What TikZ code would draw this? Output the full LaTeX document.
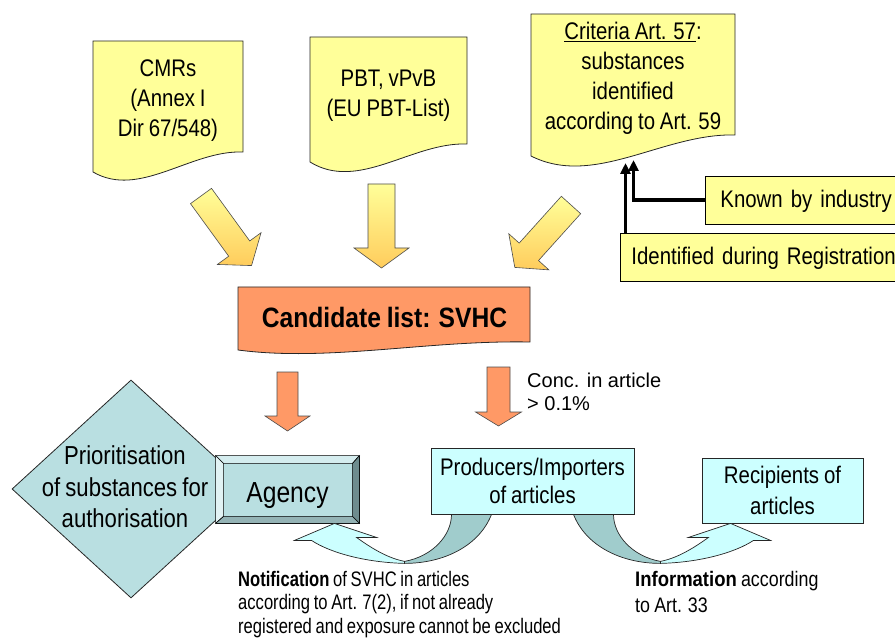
\documentclass[tikz,border=0pt]{standalone}
\usepackage{fontspec}
\setmainfont{Liberation Sans}[FakeStretch=0.85, WordSpace=0.85, BoldFeatures={FakeStretch=0.88}]
\newfontfamily\concfont{Liberation Sans}
\newfontfamily\notefont{Liberation Sans}[FakeStretch=0.79, WordSpace=0.8]
\usetikzlibrary{arrows.meta, shapes.geometric, calc}

\definecolor{docyellow}{HTML}{FFFF99}
\definecolor{arrowtop}{HTML}{FFFF99}
\definecolor{arrowbottom}{HTML}{FFCC5C}
\definecolor{svhcorange}{HTML}{FF9966}
\definecolor{tealface}{HTML}{B9DFE1}
\definecolor{bevtop}{HTML}{D5EDEF}
\definecolor{bevleft}{HTML}{E2F3F4}
\definecolor{bevright}{HTML}{6E8C8E}
\definecolor{bevbottom}{HTML}{94B3B5}
\definecolor{cyanlight}{HTML}{CCFFFF}
\definecolor{cyandark}{HTML}{A0CCCC}

\newcommand{\docpath}[6]{(#1, #2) -- (#3, #2) -- (#3, #5) .. controls ({#1 + 0.65*(#3 - #1)}, {#5 - 2}) and ({#1 + 0.31*(#3 - #1)}, {#4 + #6}) .. (#1, #4) -- cycle}

\tikzset{
    doc/.style = {fill=docyellow, draw=black!85, line width=0.8pt},
    doctext/.style = {align=center, font=\fontsize{24}{30}\selectfont},
    tag/.style = {fill=docyellow, draw=black, line width=0.8pt, align=left, minimum height=48pt, text height=17.5pt, text depth=1.5pt, font=\fontsize{24}{29}\selectfont},
    feed/.style = {line width=3.5pt, -{Triangle[length=11pt, width=10pt]}},
    cand/.style = {fill=svhcorange, draw=black!85, line width=0.8pt},
    candtext/.style = {font=\bfseries\fontsize{28}{34}\selectfont},
    yarrow/.style = {top color=arrowtop, bottom color=arrowbottom, draw=black!70, line width=0.6pt},
    oarrow/.style = {fill=svhcorange, draw=black!70, line width=0.6pt},
    prio/.style = {fill=tealface, draw=black!85, line width=0.8pt},
    priotext/.style = {align=center, font=\fontsize{26}{31.5}\selectfont},
    face/.style = {fill=tealface, draw=black, line width=0.8pt, font=\fontsize{29}{35}\selectfont},
    bevel/.style = {draw=black, line width=0.6pt},
    actor/.style = {fill=cyanlight, draw=black!85, line width=0.8pt, align=center},
    flowback/.style = {fill=cyandark, draw=black!85, line width=0.7pt},
    flowfront/.style = {fill=cyanlight, draw=black!85, line width=0.7pt},
    conc/.style = {align=left, font=\concfont\fontsize{20}{23}\selectfont},
    note/.style = {align=left, font=\notefont\fontsize{21}{23.5}\selectfont},
    info/.style = {align=left, font=\fontsize{21}{26}\selectfont},
    pics/blockarrow/.style args = {#1/#2/#3/#4}{code = {
        \path [pic actions] (-#1, 0) -- (#1, 0) -- (#1, #2) -- (#3, #2) -- (0, #4) -- (-#3, #2) -- (-#1, #2) -- cycle;
    }},
    pics/infoflow/.style = {code = {
        \path [flowback] (41, 0) .. controls (53, 31) and (88, 49) .. (128, 49) -- (128, 47) .. controls (100, 42) and (81, 21) .. (81, 0) -- cycle;
        \path [flowfront] (128, 49) .. controls (168, 48) and (203, 38) .. (221, 26) -- (238, 26) -- (198, 9) -- (156, 23) -- (176, 23) .. controls (158, 36) and (143, 44) .. (128, 47) -- cycle;
    }}
}

\begin{document}
\begin{tikzpicture}[x=1pt, y=-1pt]
        \useasboundingbox (0, 0) rectangle (895, 639);
        \path [doc] \docpath{93}{41}{243}{172}{152}{27};
        \path [doc] \docpath{310}{37}{467}{162}{144}{30};
        \path [doc] \docpath{531}{14}{735}{156}{135}{32};
        \node [doctext] (cmr) at (168, 101) {CMRs\\(Annex I\\Dir 67/548)};
        \node [doctext] (pbt) at (388.5, 96) {PBT, vPvB\\(EU PBT-List)};
        \node [doctext] (crit) at (633, 78) {\underline{Criteria Art. 57}:\\substances\\identified\\according to Art. 59};
        \node [tag, anchor=base west, inner xsep=15pt, text width=200pt] (known) at (705, 208) {Known by industry};
        \node [tag, anchor=base west, inner xsep=11pt, text width=275pt] (ident) at (620, 265) {Identified during Registration};
        \coordinate (kn) at (633.5, 160);
        \coordinate (id) at (625.5, 163);
        \draw [feed] (known.west) -| (kn);
        \draw [feed] (ident.north -| id) -- (id);
        \pic [yarrow, rotate=36] at (201, 196) {blockarrow={13/65/27/86}};
        \pic [yarrow] at (381.5, 184) {blockarrow={13.5/64/27.5/84}};
        \pic [yarrow, rotate=-42] at (571, 205) {blockarrow={13/63/27/84}};
        \path [cand] \docpath{238}{287}{530}{350}{342}{12};
        \node [candtext, anchor=base] (svhc) at (384.5, 327) {Candidate list: SVHC};
        \pic [oarrow] at (287.5, 372) {blockarrow={10.5/44/22.5/59}};
        \pic [oarrow] at (498.5, 367) {blockarrow={11.5/45/23/59}};
        \node [conc, anchor=north west, inner sep=0pt] (conc) at (527, 373) {Conc. in article\\> 0.1\%};
        \node [prio, diamond, minimum width=238pt, minimum height=218pt, inner sep=0pt] (prio) at (131, 489) {};
        \node [priotext] (priolabel) at (125, 487) {Prioritisation\\of substances for\\authorisation};
        \node [face, minimum width=143pt, minimum height=67pt, text height=25pt, text depth=0pt, inner sep=0pt] (agency) at (287.5, 489.5) {Agency};
        \filldraw [bevel, fill=bevtop] (agency.north west) -- (agency.north east) -- ($(agency.north east) + (-7, 8)$) -- ($(agency.north west) + (8, 8)$) -- cycle;
        \filldraw [bevel, fill=bevleft] (agency.north west) -- ($(agency.north west) + (8, 8)$) -- ($(agency.south west) + (8, -7)$) -- (agency.south west) -- cycle;
        \filldraw [bevel, fill=bevright] (agency.north east) -- (agency.south east) -- ($(agency.south east) + (-7, -7)$) -- ($(agency.north east) + (-7, 8)$) -- cycle;
        \filldraw [bevel, fill=bevbottom] (agency.south west) -- (agency.south east) -- ($(agency.south east) + (-7, -7)$) -- ($(agency.south west) + (8, -7)$) -- cycle;
        \node [actor, minimum width=203pt, minimum height=66pt, font=\fontsize{24}{28}\selectfont] (prod) at (532.5, 481) {Producers/Importers\\of articles};
        \node [actor, minimum width=161pt, minimum height=65pt, font=\fontsize{24}{31}\selectfont] (recip) at (782.5, 490.5) {Recipients of\\articles};
        \pic at (prod.south) {infoflow};
        \pic [xscale=-1] at (prod.south) {infoflow};
        \node [note, anchor=north west, inner sep=0pt] (notif) at (238, 571) {\textbf{Notification} of SVHC in articles\\according to Art. 7(2), if not already\\registered and exposure cannot be excluded};
        \node [info, anchor=north west, inner sep=0pt] (inform) at (635, 571) {\textbf{Information} according\\to Art. 33};
\end{tikzpicture}
\end{document}
